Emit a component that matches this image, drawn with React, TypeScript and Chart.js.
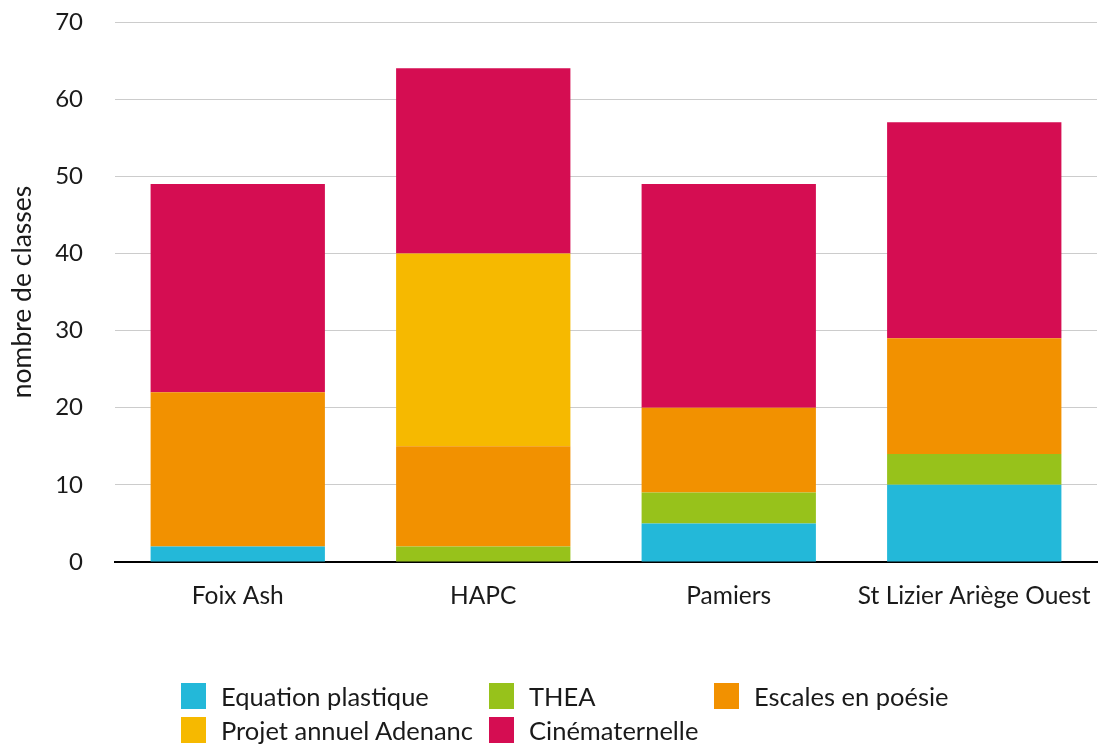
import React, { useEffect, useRef } from "react";
import { Chart, registerables } from "chart.js";

Chart.register(...registerables);

const categories = ["Foix Ash", "HAPC", "Pamiers", "St Lizier Ariège Ouest"];
const seriesNames = ["Equation plastique", "THEA", "Escales en poésie", "Projet annuel Adenanc", "Cinématernelle"];
const equationPlastique = [2, 0, 5, 10];
const thea = [0, 2, 4, 4];
const escalesEnPoesie = [20, 13, 11, 15];
const projetAnnuel = [0, 25, 0, 0];
const cinematernelle = [27, 24, 29, 28];
const seriesColors = ["#23b8d9", "#97c21b", "#f29100", "#f6b900", "#d50d52"];
const yTicks = [0, 10, 20, 30, 40, 50, 60, 70];

const FONT = "Lato, 'Open Sans', sans-serif";

export default function App() {
  const ref = useRef<HTMLCanvasElement | null>(null);

  useEffect(() => {
    document.body.style.margin = "0";
    const values = [equationPlastique, thea, escalesEnPoesie, projetAnnuel, cinematernelle];
    const chart = new Chart(ref.current!, {
      type: "bar",
      data: {
        labels: categories,
        datasets: seriesNames.map((name, i) => ({
          label: name,
          data: values[i],
          backgroundColor: seriesColors[i],
          borderWidth: 0,
          barPercentage: 0.71,
          categoryPercentage: 1,
        })),
      },
      options: {
        animation: false,
        responsive: false,
        maintainAspectRatio: false,
        layout: { padding: { top: 22, right: 3, bottom: 0, left: 0 } },
        plugins: { legend: { display: false }, tooltip: { enabled: false } },
        scales: {
          x: {
            stacked: true,
            grid: { display: false, drawTicks: false },
            border: { display: true, color: "#000", width: 2 },
            ticks: {
              color: "#1a1a1a",
              font: { family: FONT, size: 24.5 },
              padding: 19,
              maxRotation: 0,
              minRotation: 0,
              autoSkip: false,
            },
            afterFit: (s: any) => {
              s.height = 184;
              s.paddingLeft = 0;
              s.paddingRight = 0;
            },
          },
          y: {
            stacked: true,
            min: 0,
            max: 70,
            afterBuildTicks: (axis: any) => {
              axis.ticks = yTicks.map((v) => ({ value: v }));
            },
            afterFit: (s: any) => {
              s.width = 115;
              s.paddingTop = 0;
              s.paddingBottom = 0;
            },
            grid: { color: "#cccccc", lineWidth: 1, drawTicks: false },
            border: { display: false },
            ticks: { color: "#1a1a1a", font: { family: FONT, size: 24 }, padding: 32 },
            title: {
              display: true,
              text: "nombre de classes",
              color: "#1a1a1a",
              font: { family: FONT, size: 26.5 },
              padding: { top: 7, bottom: 10 },
            },
          },
        },
      },
    });
    return () => chart.destroy();
  }, []);

  const legendItems = [
    { i: 0, x: 181, y: 683 },
    { i: 1, x: 489, y: 683 },
    { i: 2, x: 714, y: 683 },
    { i: 3, x: 181, y: 717 },
    { i: 4, x: 489, y: 717 },
  ];

  return (
    <div style={{ position: "relative", width: 1100, height: 746, background: "#fff" }}>
      <canvas ref={ref} width={1100} height={746} style={{ display: "block" }} />
      {legendItems.map(({ i, x, y }) => (
        <div key={i} style={{ position: "absolute", left: x, top: y, height: 26, display: "flex", alignItems: "center" }}>
          <div style={{ width: 25, height: 26, background: seriesColors[i] }} />
          <span style={{ marginLeft: 15, fontFamily: FONT, fontSize: 25.5, color: "#1a1a1a", whiteSpace: "nowrap" }}>
            {seriesNames[i]}
          </span>
        </div>
      ))}
    </div>
  );
}
